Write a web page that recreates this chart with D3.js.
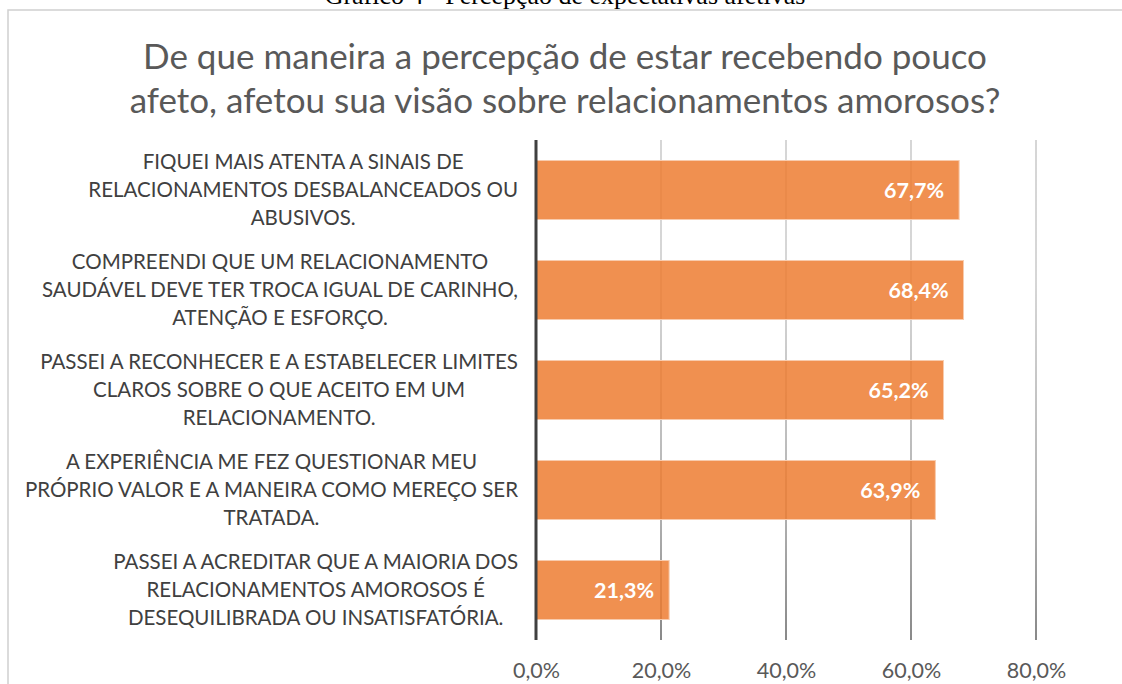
<!DOCTYPE html>
<html>
<head>
<meta charset="utf-8">
<script src="https://cdn.jsdelivr.net/npm/d3@7"></script>
<style>
  body { margin: 0; background: #fff; }
  svg { display: block; font-family: Lato, "Open Sans", sans-serif; }
</style>
</head>
<body>
<svg id="chart" width="1122" height="684"></svg>
<script>
// data
var categories = [
  ["FIQUEI MAIS ATENTA A SINAIS DE", "RELACIONAMENTOS DESBALANCEADOS OU", "ABUSIVOS."],
  ["COMPREENDI QUE UM RELACIONAMENTO", "SAUDÁVEL DEVE TER TROCA IGUAL DE CARINHO,", "ATENÇÃO E ESFORÇO."],
  ["PASSEI A RECONHECER E A ESTABELECER LIMITES", "CLAROS SOBRE O QUE ACEITO EM UM", "RELACIONAMENTO."],
  ["A EXPERIÊNCIA ME FEZ QUESTIONAR MEU", "PRÓPRIO VALOR E A MANEIRA COMO MEREÇO SER", "TRATADA."],
  ["PASSEI A ACREDITAR QUE A MAIORIA DOS", "RELACIONAMENTOS AMOROSOS É", "DESEQUILIBRADA OU INSATISFATÓRIA."]
];
var values = [67.7, 68.4, 65.2, 63.9, 21.3];
var ticks = [0, 20, 40, 60, 80];
var titleLines = ["De que maneira a percepção de estar recebendo pouco", "afeto, afetou sua visão sobre relacionamentos amorosos?"];
var caption = "Gráfico 4 - Percepção de expectativas afetivas";

var svg = d3.select('#chart');
var margin = {left: 536, right: 86, top: 140, bottom: 44};
var width = +svg.attr('width'), height = +svg.attr('height');
var innerwidth = width - margin.left - margin.right;
var innerheight = height - margin.top - margin.bottom;
var fmt = function(v){ return d3.format('.1f')(v).replace('.', ',') + '%'; };

// caption, cut off at the top of the page
svg.append('text').attr('x', 565).attr('y', 4)
  .attr('text-anchor', 'middle')
  .style('font-family', '"Liberation Serif", "Times New Roman", serif')
  .style('font-size', '26px').attr('fill', '#000')
  .text(caption);

// chart frame
svg.append('rect').attr('x', 8).attr('y', 10).attr('width', 1130).attr('height', 700)
  .attr('fill', 'none').attr('stroke', '#d0d0d0').attr('stroke-width', 1.5);

// title
svg.append('g').selectAll('text').data(titleLines).enter().append('text')
  .attr('x', 565).attr('y', (d, i) => 69 + i * 44)
  .attr('text-anchor', 'middle')
  .style('font-size', '35px').attr('fill', '#595959')
  .text(d => d);

var xscale = d3.scaleLinear().domain([0, 80]).range([0, innerwidth]);
var yscale = d3.scaleBand().domain(d3.range(values.length)).range([0, innerheight])
  .paddingInner(0.41).paddingOuter(0.205);

var defs = svg.append('defs');
var grad = defs.append('linearGradient').attr('id', 'gridgrad')
  .attr('gradientUnits', 'userSpaceOnUse')
  .attr('x1', 0).attr('y1', margin.top).attr('x2', 0).attr('y2', margin.top + innerheight);
grad.append('stop').attr('offset', '0%').attr('stop-color', '#c8c8c8');
grad.append('stop').attr('offset', '45%').attr('stop-color', '#9a9a9a');
grad.append('stop').attr('offset', '100%').attr('stop-color', '#262626');

var g = svg.append('g').attr('transform', `translate(${margin.left},${margin.top})`);

// gridlines
g.append('g').selectAll('line').data(ticks.slice(1)).enter().append('line')
  .attr('x1', d => xscale(d)).attr('x2', d => xscale(d))
  .attr('y1', 0).attr('y2', innerheight)
  .attr('stroke', 'url(#gridgrad)').attr('stroke-width', 1.5);

// bars
g.append('g').selectAll('rect').data(values).enter().append('rect')
  .attr('x', 0)
  .attr('y', (d, i) => yscale(i))
  .attr('width', d => xscale(d))
  .attr('height', yscale.bandwidth())
  .attr('fill', '#ED7D31').attr('fill-opacity', 0.85)
  .attr('stroke', '#F8CBAD').attr('stroke-width', 1);

// value labels
g.append('g').selectAll('text').data(values).enter().append('text')
  .attr('x', d => xscale(d) - 15)
  .attr('y', (d, i) => yscale(i) + yscale.bandwidth() / 2)
  .attr('dy', '0.35em').attr('text-anchor', 'end')
  .style('font-size', '21.5px').style('font-weight', 'bold').attr('fill', '#fff')
  .text(d => fmt(d));

// y axis line
g.append('line').attr('x1', 0).attr('x2', 0).attr('y1', 0).attr('y2', innerheight)
  .attr('stroke', '#404040').attr('stroke-width', 3);

// x axis labels
var xaxis = d3.axisBottom(xscale).tickValues(ticks).tickSize(0).tickPadding(23).tickFormat(fmt);
var xg = g.append('g').attr('transform', `translate(0,${innerheight})`).call(xaxis);
xg.select('.domain').remove();
xg.selectAll('text').style('font-size', '21.5px').style('font-family', 'Lato, sans-serif').attr('fill', '#595959');

// category labels: block right aligned, lines centered in block
var labelRight = 518;
var lg = svg.append('g');
categories.forEach(function(lines, i){
  var cy = margin.top + yscale(i) + yscale.bandwidth() / 2;
  var grp = lg.append('g');
  var texts = grp.selectAll('text').data(lines).enter().append('text')
    .attr('y', (d, j) => cy + (j - (lines.length - 1) / 2) * 28)
    .attr('dy', '0.35em').attr('text-anchor', 'middle')
    .style('font-size', '20.5px').attr('fill', '#404040')
    .text(d => d);
  var maxW = d3.max(texts.nodes(), n => n.getComputedTextLength());
  texts.attr('x', labelRight - maxW / 2);
});
</script>
</body>
</html>
